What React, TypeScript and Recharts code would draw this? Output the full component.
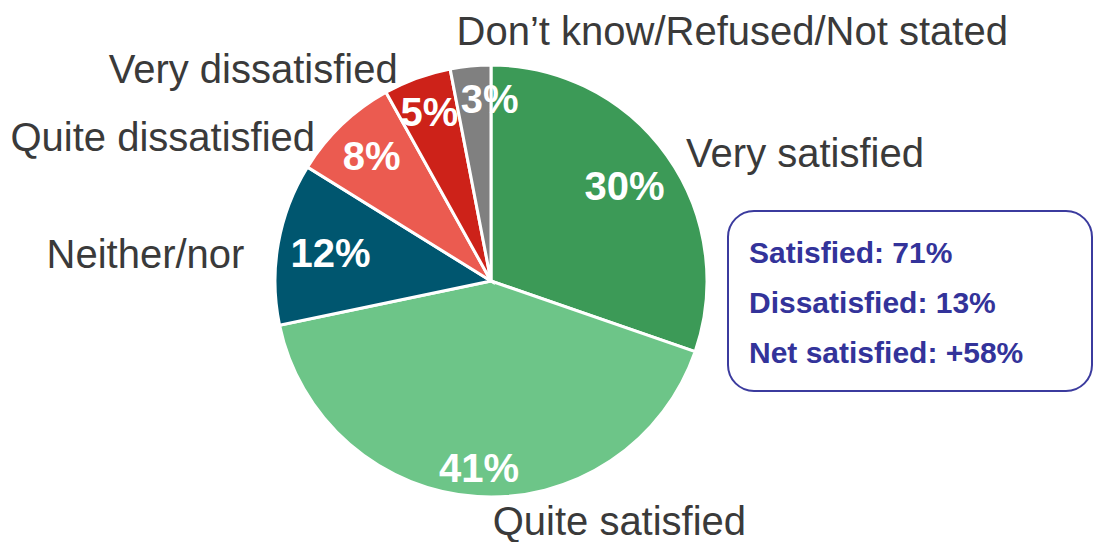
import React from 'react';
import { PieChart, Pie, Cell } from 'recharts';

const categories = [
  'Very satisfied',
  'Quite satisfied',
  'Neither/nor',
  'Quite dissatisfied',
  'Very dissatisfied',
  'Don\u2019t know/Refused/Not stated',
];
const values = [30, 41, 12, 8, 5, 3];
const summaryLines = ['Satisfied: 71%', 'Dissatisfied: 13%', 'Net satisfied: +58%'];

const colors = ['#3C9A57', '#6DC588', '#00566F', '#EB5B50', '#CD2219', '#808080'];

// label layout (style only)
const innerLayout = [
  { r: 164, dx: 0, dy: 0 },
  { r: 187, dx: 0, dy: 0 },
  { r: 163, dx: 0, dy: 0 },
  { r: 173, dx: 0, dy: 0 },
  { r: 180, dx: 0, dy: 0 },
  { r: 183, dx: 16, dy: 0 },
];
const outerLayout = [
  { anchor: 'start', dx: 11, dy: 17 },
  { anchor: 'start', dx: 16, dy: 28 },
  { anchor: 'end', dx: -24, dy: 26 },
  { anchor: 'end', dx: -20, dy: 34 },
  { anchor: 'end', dx: -16, dy: 14 },
  { anchor: 'start', dx: -13, dy: -11 },
];

const data = categories.map((name, i) => ({ name, value: values[i] }));

const FONT = '"Liberation Sans", Arial, Helvetica, sans-serif';
const FS = 40;
const RAD = Math.PI / 180;

function renderLabel(props: any) {
  const { cx, cy, midAngle, outerRadius, index, value } = props;
  const cos = Math.cos(-midAngle * RAD);
  const sin = Math.sin(-midAngle * RAD);
  const il = innerLayout[index];
  const ix = cx + il.r * cos + il.dx;
  const iy = cy + il.r * sin + il.dy;
  const P = outerRadius + 10;
  const ol = outerLayout[index];
  const ox = cx + P * cos + ol.dx;
  const oy = cy + P * sin + ol.dy;
  return (
    <g key={`lbl-${index}`}>
      <text
        x={ix}
        y={iy + 0.36 * FS}
        textAnchor="middle"
        fill="#ffffff"
        fontWeight="bold"
        fontSize={FS}
        fontFamily={FONT}
      >
        {`${value}%`}
      </text>
      <text
        x={ox}
        y={oy}
        textAnchor={ol.anchor as any}
        fill="#3a3a3a"
        fontSize={FS}
        fontFamily={FONT}
      >
        {categories[index]}
      </text>
    </g>
  );
}

export default function App() {
  return (
    <div style={{ position: 'absolute', left: 0, top: 0, width: 1095, height: 542, background: '#fff', fontFamily: FONT }}>
      <PieChart width={1095} height={542} margin={{ top: 0, right: 0, bottom: 0, left: 0 }}>
        <Pie
          data={data}
          dataKey="value"
          nameKey="name"
          cx={491}
          cy={281}
          outerRadius={216}
          startAngle={90}
          endAngle={-270}
          stroke="#ffffff"
          strokeWidth={3}
          label={renderLabel}
          labelLine={false}
          isAnimationActive={false}
        >
          {data.map((d, i) => (
            <Cell key={d.name} fill={colors[i]} />
          ))}
        </Pie>
      </PieChart>
      <svg width={1095} height={542} style={{ position: 'absolute', left: 0, top: 0, pointerEvents: 'none' }}>
        <rect x={728} y={211} width={364} height={180} rx={26} ry={26} fill="#ffffff" stroke="#3B3B9E" strokeWidth={2} />
        {summaryLines.map((t, i) => (
          <text key={t} x={749} y={263 + i * 50} fill="#33339A" fontWeight="bold" fontSize={30} fontFamily={FONT}>
            {t}
          </text>
        ))}
      </svg>
    </div>
  );
}
